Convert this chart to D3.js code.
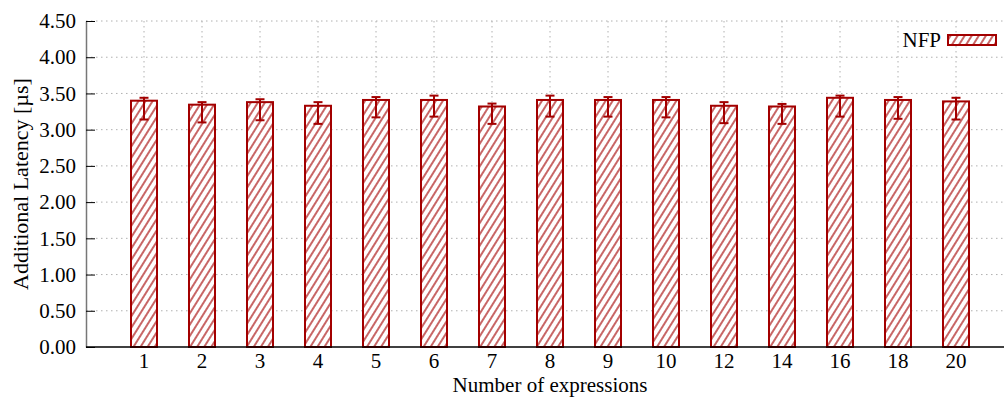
<!DOCTYPE html>
<html>
<head>
<meta charset="utf-8">
<script src="https://cdn.jsdelivr.net/npm/d3@7"></script>
<style>
  body { margin: 0; background: #fff; }
  text { font-family: "Liberation Serif", "DejaVu Serif", serif; fill: #000; }
</style>
</head>
<body>
<div class="container"></div>
<script>
// values
const categories = ["1", "2", "3", "4", "5", "6", "7", "8", "9", "10", "12", "14", "16", "18", "20"];
const latency = [3.40, 3.345, 3.38, 3.33, 3.41, 3.41, 3.32, 3.41, 3.41, 3.41, 3.33, 3.32, 3.44, 3.41, 3.39];
const errHigh = [3.44, 3.38, 3.42, 3.38, 3.45, 3.47, 3.36, 3.47, 3.45, 3.45, 3.38, 3.355, 3.47, 3.45, 3.44];
const errLow = [3.14, 3.10, 3.13, 3.08, 3.17, 3.18, 3.08, 3.18, 3.18, 3.17, 3.09, 3.08, 3.18, 3.15, 3.14];
const yTicks = [0, 0.5, 1, 1.5, 2, 2.5, 3, 3.5, 4, 4.5];
const seriesName = "NFP";

const width = 1004;
const height = 398;
const marginLeft = 86;
const marginTop = 21;
const marginBottom = 51;
const red = "#a30000";
const fontSize = 21;

const data = categories.map((c, i) => ({ c, i, v: latency[i], hi: errHigh[i], lo: errLow[i] }));

// x position by category index; the frame starts one slot left of the first bar
const x = d3.scaleLinear()
  .domain([-1, categories.length - 1])
  .range([marginLeft, 956]);

const y = d3.scaleLinear()
  .domain([0, 4.5])
  .range([height - marginBottom, marginTop]);

const svg = d3.select(".container")
  .append("svg")
  .attr("width", width)
  .attr("height", height);

// hatch pattern
const pat = svg.append("defs").append("pattern")
  .attr("id", "hatch")
  .attr("patternUnits", "userSpaceOnUse")
  .attr("width", 6)
  .attr("height", 6)
  .attr("patternTransform", "rotate(32)");
pat.append("rect").attr("width", 6).attr("height", 6).attr("fill", "#fff");
pat.append("line")
  .attr("x1", 3).attr("y1", 0).attr("x2", 3).attr("y2", 6)
  .attr("stroke", red).attr("stroke-width", 1.2);

// horizontal grid
svg.append("g")
  .selectAll("line")
  .data(yTicks.slice(1))
  .join("line")
  .attr("x1", marginLeft).attr("x2", width)
  .attr("y1", (d) => y(d)).attr("y2", (d) => y(d))
  .attr("stroke", "#b0b0b0")
  .attr("stroke-width", 1)
  .attr("stroke-dasharray", "1.5,3.5");

// vertical grid
svg.append("g")
  .selectAll("line")
  .data(data)
  .join("line")
  .attr("x1", (d) => x(d.i)).attr("x2", (d) => x(d.i))
  .attr("y1", marginTop).attr("y2", y(0))
  .attr("stroke", "#b0b0b0")
  .attr("stroke-width", 1)
  .attr("stroke-dasharray", "1.5,3.5");

// y axis
const yAxis = svg.append("g")
  .attr("transform", `translate(${marginLeft},0)`)
  .call(d3.axisLeft(y).tickValues(yTicks).tickFormat(d3.format(".2f")).tickSizeInner(-9).tickSizeOuter(0).tickPadding(10));
yAxis.select(".domain").attr("stroke", "#777").attr("stroke-width", 1.5);
yAxis.selectAll(".tick line").attr("stroke", "#000");
yAxis.selectAll(".tick text").attr("font-size", fontSize).attr("font-family", "Liberation Serif");

// bars
const bw = 26;
svg.append("g")
  .selectAll("rect")
  .data(data)
  .join("rect")
  .attr("x", (d) => x(d.i) - bw / 2)
  .attr("y", (d) => y(d.v))
  .attr("width", bw)
  .attr("height", (d) => y(0) - y(d.v))
  .attr("fill", "url(#hatch)")
  .attr("stroke", red)
  .attr("stroke-width", 2);

// error bars
const eb = svg.append("g").attr("stroke", red).attr("stroke-width", 2);
eb.selectAll(".stem")
  .data(data)
  .join("line")
  .attr("class", "stem")
  .attr("x1", (d) => x(d.i)).attr("x2", (d) => x(d.i))
  .attr("y1", (d) => y(d.hi)).attr("y2", (d) => y(d.lo));
eb.selectAll(".capHi")
  .data(data)
  .join("line")
  .attr("class", "capHi")
  .attr("x1", (d) => x(d.i) - 4.5).attr("x2", (d) => x(d.i) + 4.5)
  .attr("y1", (d) => y(d.hi)).attr("y2", (d) => y(d.hi));
eb.selectAll(".capLo")
  .data(data)
  .join("line")
  .attr("class", "capLo")
  .attr("x1", (d) => x(d.i) - 4.5).attr("x2", (d) => x(d.i) + 4.5)
  .attr("y1", (d) => y(d.lo)).attr("y2", (d) => y(d.lo));

// x axis
const xAxis = svg.append("g")
  .attr("transform", `translate(0,${y(0)})`);
xAxis.append("line")
  .attr("x1", marginLeft).attr("x2", width)
  .attr("stroke", "#000").attr("stroke-width", 1.5);
xAxis.selectAll("text")
  .data(data)
  .join("text")
  .attr("x", (d) => x(d.i))
  .attr("y", 21)
  .attr("text-anchor", "middle")
  .attr("font-size", fontSize)
  .text((d) => d.c);

// axis titles
svg.append("text")
  .attr("x", 550)
  .attr("y", 392)
  .attr("text-anchor", "middle")
  .attr("font-size", fontSize)
  .text("Number of expressions");

svg.append("text")
  .attr("transform", `translate(28,${(y(0) + marginTop) / 2}) rotate(-90)`)
  .attr("text-anchor", "middle")
  .attr("font-size", 22)
  .text("Additional Latency [µs]");

// legend
svg.append("text")
  .attr("x", 941)
  .attr("y", 47)
  .attr("text-anchor", "end")
  .attr("font-size", fontSize)
  .text(seriesName);
svg.append("rect")
  .attr("x", 948).attr("y", 35)
  .attr("width", 48).attr("height", 10)
  .attr("fill", "url(#hatch)")
  .attr("stroke", red)
  .attr("stroke-width", 2);
</script>
</body>
</html>
